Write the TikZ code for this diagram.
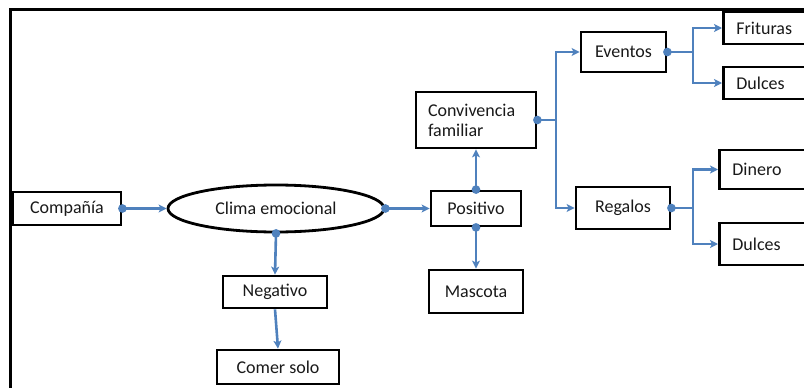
\documentclass[tikz,border=0pt]{standalone}
\usepackage{fontspec}
\setmainfont{Carlito}
\usetikzlibrary{arrows.meta,shapes.geometric}
\definecolor{linkblue}{RGB}{79,129,189}
\begin{document}
\begin{tikzpicture}[x=1pt,y=-1pt,
  every node/.style={font=\fontsize{18}{20}\selectfont, text=black!90},
  box/.style={draw=black, line width=2.8pt, rectangle, inner sep=0pt},
  cutbox/.style={box, anchor=west, align=left, text width=90pt, inner xsep=13pt},
  oval/.style={draw=black, line width=2.8pt, ellipse, inner sep=0pt,
    minimum width=216pt, minimum height=47pt},
  conn/.style={draw=linkblue, line width=2.6pt,
    {Circle[length=8.5pt,width=8.5pt]}-{Stealth[length=8pt,width=8pt,inset=2pt]},
    shorten <=-4.25pt},
  plain/.style={draw=linkblue, line width=2.6pt,
    -{Stealth[length=8pt,width=8pt,inset=2pt]}},
  branch/.style={draw=linkblue, line width=2.6pt}]
\useasboundingbox (0,0) rectangle (804,388);
\clip (0,0) rectangle (804,388);

% outer frame
\draw[line width=3pt] (820,9) -- (10.5,9) -- (10.5,400);

% main chain
\node[box, minimum width=108pt, minimum height=33pt] (comp) at (67,208.5) {Compañía};
\node[oval] (clima) at (276,208.5) {Clima emocional};
\node[box, minimum width=104pt, minimum height=32pt] (neg) at (275,292) {Negativo};
\node[box, minimum width=122pt, minimum height=34pt] (solo) at (278,367) {Comer solo};
\node[box, minimum width=90pt, minimum height=35pt] (pos) at (476,208.5) {Positivo};
\node[box, minimum width=94pt, minimum height=43pt] (masc) at (476,291.5) {Mascota};
\node[box, minimum width=120pt, minimum height=56pt, align=left, text width=96pt] (conv) at (476,120)
  {Convivencia\\familiar};
\node[box, minimum width=85pt, minimum height=40pt] (ev) at (623.5,52) {Eventos};
\node[box, minimum width=94pt, minimum height=42pt] (reg) at (623,208) {Regalos};

% leaves running off the right edge
\node[cutbox, minimum height=32pt] (frit) at (722,28) {Frituras};
\node[cutbox, minimum height=32pt] (dulA) at (722,83) {Dulces};
\node[cutbox, minimum height=39pt] (din) at (718,169.5) {Dinero};
\node[cutbox, minimum height=42pt] (dulB) at (718,244) {Dulces};

% junctions of the elbow connectors
\coordinate (jc) at (556,120);
\coordinate (je) at (693,52);
\coordinate (jr) at (693,208);

% connectors
\draw[conn] (comp.east) -- (clima.west);
\draw[conn] (clima.east) -- (pos.west);
\draw[conn] (clima.south) -- (neg.north);
\draw[plain] (neg.south) -- (solo.north);
\draw[conn] (pos.north) -- (conv.south);
\draw[conn] (pos.south) -- (masc.north);

\draw[conn] (conv.east) -- (jc) |- (ev.west);
\draw[plain] (jc) |- (reg.west);

\draw[conn] (ev.east) -- (je) |- (frit.west);
\draw[plain] (je) |- (dulA.west);

\draw[conn] (reg.east) -- (jr) |- (din.west);
\draw[plain] (jr) |- (dulB.west);
\end{tikzpicture}
\end{document}
